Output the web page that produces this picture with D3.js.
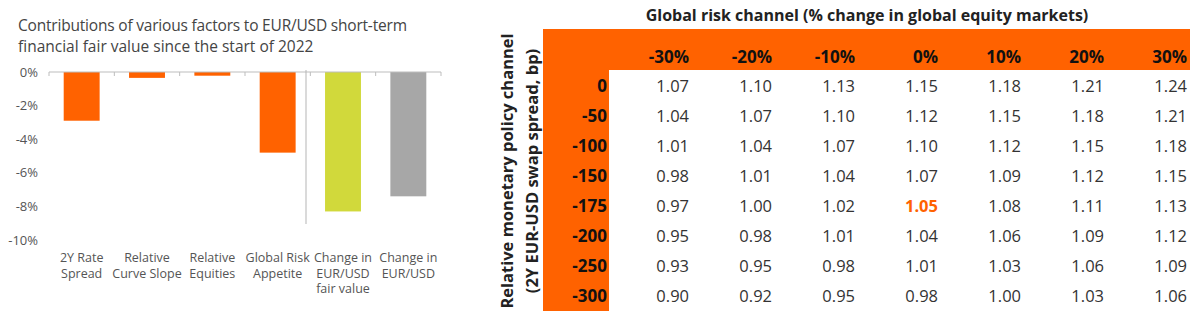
<!DOCTYPE html>
<html><head><meta charset="utf-8">
<script src="https://cdn.jsdelivr.net/npm/d3@7"></script>
<style>
body{margin:0;background:#fff;}
svg{display:block;font-family:"Open Sans",sans-serif;}
</style></head>
<body><svg id="c" width="1200" height="323"></svg>
<script>
// ---- Left bar chart data ----
const barCategories = ["2Y Rate|Spread","Relative|Curve Slope","Relative|Equities","Global Risk|Appetite","Change in|EUR/USD|fair value","Change in|EUR/USD"];
const barValues = [-2.9, -0.35, -0.22, -4.8, -8.3, -7.4];
const barColors = ["#FF6200","#FF6200","#FF6200","#FF6200","#D1D93B","#A7A7A7"];
const yTicks = [0,-2,-4,-6,-8,-10];
const barTitle = ["Contributions of various factors to EUR/USD short-term","financial fair value since the start of 2022"];

// ---- Right table data ----
const colLabels = ["-30%","-20%","-10%","0%","10%","20%","30%"];
const rowLabels = ["0","-50","-100","-150","-175","-200","-250","-300"];
const tableValues = [
  [1.07,1.10,1.13,1.15,1.18,1.21,1.24],
  [1.04,1.07,1.10,1.12,1.15,1.18,1.21],
  [1.01,1.04,1.07,1.10,1.12,1.15,1.18],
  [0.98,1.01,1.04,1.07,1.09,1.12,1.15],
  [0.97,1.00,1.02,1.05,1.08,1.11,1.13],
  [0.95,0.98,1.01,1.04,1.06,1.09,1.12],
  [0.93,0.95,0.98,1.01,1.03,1.06,1.09],
  [0.90,0.92,0.95,0.98,1.00,1.03,1.06]
];
const highlight = {row:4, col:3};
const tableTitle = "Global risk channel (% change in global equity markets)";
const rowTitle = ["Relative monetary policy channel","(2Y EUR-USD swap spread, bp)"];

const svg = d3.select("#c");
const ORANGE = "#FF6200";

// ===== Left chart =====
const g = svg.append("g");
g.selectAll("text.title").data(barTitle).join("text")
  .attr("x",18).attr("y",(d,i)=>31+i*21)
  .attr("font-size",15.5).attr("fill","#444").attr("font-weight",400)
  .attr("textLength",(d,i)=>i===0?389:null)
  .text(d=>d);

const x = d3.scaleBand().domain(barCategories).range([49,441]).paddingInner(0.45).paddingOuter(0.225);
const y = d3.scaleLinear().domain([0,-10]).range([72,240]);

g.selectAll("rect.bar").data(barValues).join("rect")
  .attr("x",(d,i)=>x(barCategories[i]))
  .attr("width",x.bandwidth())
  .attr("y",y(0))
  .attr("height",d=>y(d)-y(0))
  .attr("fill",(d,i)=>barColors[i]);

// y axis labels
const yAxis = d3.axisLeft(y).tickValues(yTicks).tickSize(0).tickPadding(0).tickFormat(d=>d+"%");
const ya = g.append("g").attr("transform","translate(38,0)").call(yAxis);
ya.select(".domain").remove();
ya.selectAll("text").attr("font-size",13).attr("fill","#555").attr("font-family","Open Sans");

// x axis line with ticks at band boundaries
const edges = d3.range(barCategories.length+1).map(i=>49+i*(392/barCategories.length));
g.append("line").attr("x1",49).attr("x2",441).attr("y1",y(0)).attr("y2",y(0)).attr("stroke","#bdbdbd").attr("stroke-width",1.2);
g.selectAll("line.tk").data(edges).join("line")
  .attr("x1",d=>d).attr("x2",d=>d).attr("y1",y(0)).attr("y2",y(0)+4)
  .attr("stroke","#bdbdbd");
// separator
g.append("line").attr("x1",306).attr("x2",306).attr("y1",y(0)-2).attr("y2",224).attr("stroke","#b5b5b5");

// x labels
barCategories.forEach(c=>{
  const t = g.append("text").attr("x",x(c)+x.bandwidth()/2).attr("y",262)
    .attr("text-anchor","middle").attr("font-size",12.5).attr("fill","#555");
  c.split("|").forEach((line,i)=>{
    t.append("tspan").attr("x",x(c)+x.bandwidth()/2).attr("dy",i?15.5:0).text(line);
  });
});

// ===== Right table =====
const tg = svg.append("g");
const colRight = d3.scalePoint().domain(colLabels).range([689,1187]);
const rowY = d3.scalePoint().domain(rowLabels).range([86.5,296.5]);

tg.append("rect").attr("x",543).attr("y",29).attr("width",1190-543).attr("height",41).attr("fill",ORANGE);
tg.append("rect").attr("x",543).attr("y",29).attr("width",609-543).attr("height",311-29).attr("fill",ORANGE);

tg.append("text").attr("x",867).attr("y",21).attr("text-anchor","middle")
  .attr("font-size",16).attr("font-weight",700).attr("fill","#222").text(tableTitle);

tg.selectAll("text.ch").data(colLabels).join("text")
  .attr("x",d=>colRight(d)).attr("y",57).attr("dy","0.35em")
  .attr("text-anchor","end").attr("font-size",17).attr("font-weight",700).attr("fill","#111")
  .text(d=>d);

tg.selectAll("text.rh").data(rowLabels).join("text")
  .attr("x",607).attr("y",d=>rowY(d)).attr("dy","0.35em")
  .attr("text-anchor","end").attr("font-size",17).attr("font-weight",700).attr("fill","#111")
  .text(d=>d);

tableValues.forEach((row,ri)=>{
  row.forEach((v,ci)=>{
    const hl = ri===highlight.row && ci===highlight.col;
    tg.append("text").attr("x",colRight(colLabels[ci])).attr("y",rowY(rowLabels[ri])).attr("dy","0.35em")
      .attr("text-anchor","end").attr("font-size",16.5)
      .attr("font-weight",hl?700:400).attr("fill",hl?ORANGE:"#333")
      .text(v.toFixed(2));
  });
});

rowTitle.forEach((t,i)=>{
  tg.append("text").attr("transform",`translate(${507+i*25},171) rotate(-90)`)
    .attr("dy","0.35em").attr("text-anchor","middle")
    .attr("font-size",16.5).attr("font-weight",700).attr("fill","#222").text(t);
});
</script></body></html>
